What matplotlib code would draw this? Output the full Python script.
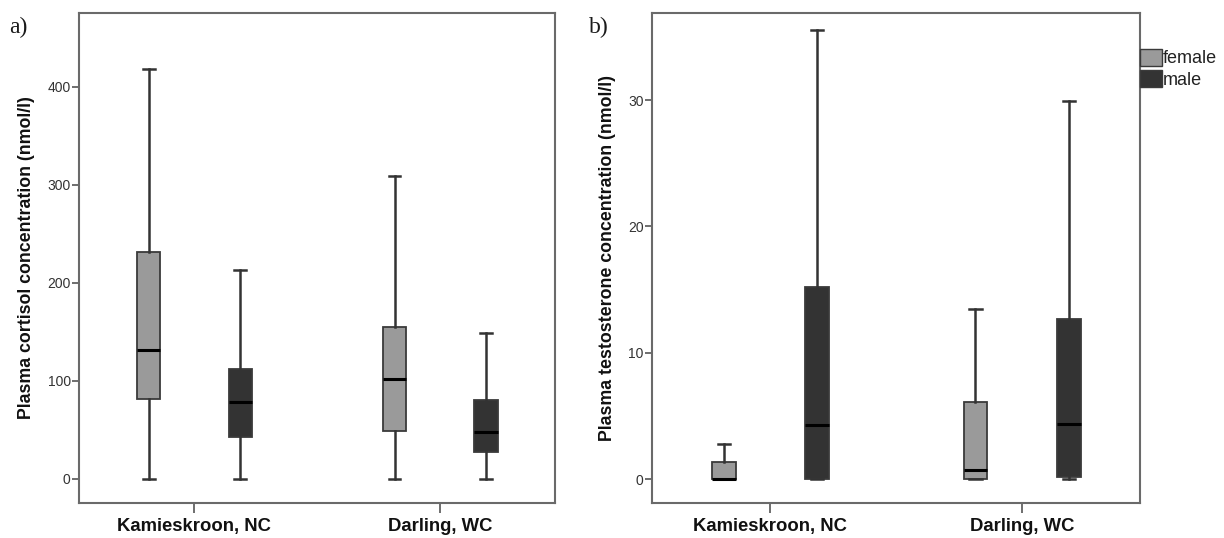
import matplotlib
matplotlib.use("Agg")
import matplotlib.pyplot as plt
from matplotlib.patches import Patch
import numpy as np

plt.rcParams['font.family'] = ['Liberation Sans', 'DejaVu Sans']

sites = ["Kamieskroon, NC", "Darling, WC"]
sexes = ["female", "male"]
colors = {"female": "#9a9a9a", "male": "#333333"}

# cortisol (nmol/l): [whislo, q1, med, q3, whishi] per site
cort_female = [[0, 81.9, 131.6, 231.6, 418.7], [0, 49.3, 102.3, 155.4, 309]]
cort_male = [[0, 43.2, 78.9, 112, 213], [0, 27.6, 48, 80.6, 149.3]]

# testosterone (nmol/l)
testo_female = [[0, 0, 0, 1.32, 2.77], [0, 0, 0.69, 6.1, 13.5]]
testo_male = [[0, 0, 4.3, 15.2, 35.55], [0, 0.13, 4.35, 12.64, 29.9]]


def stats(rows):
    out = []
    for lo, q1, med, q3, hi in rows:
        out.append(dict(whislo=lo, q1=q1, med=med, q3=q3, whishi=hi, fliers=[]))
    return out


def panel(ax, fem, mal, ylim, yticks, ylabel, tag, tagx, lpad):
    x = np.arange(len(sites))
    off = 0.186
    for data, sx, sign in [(fem, "female", -1), (mal, "male", 1)]:
        ax.bxp(stats(data), positions=x + sign * off, widths=0.095,
               patch_artist=True, showfliers=False, manage_ticks=False,
               boxprops=dict(facecolor=colors[sx], edgecolor="#3a3a3a", linewidth=1.3),
               medianprops=dict(color="black", linewidth=2.2),
               whiskerprops=dict(color="#333333", linewidth=1.8),
               capprops=dict(color="#333333", linewidth=1.8),
               capwidths=0.048)
    ax.set_xlim(-0.47, 1.467)
    ax.set_ylim(*ylim)
    ax.set_yticks(yticks)
    ax.set_xticks(x)
    ax.set_xticklabels(sites, fontsize=13.3, fontweight="bold", color="#111111")
    ax.tick_params(axis="y", labelsize=10, labelcolor="#333333", color="#555555",
                   length=5, width=1.2, direction="out", pad=1)
    ax.tick_params(axis="x", color="#555555", length=7, width=1.2, pad=4)
    for s in ax.spines.values():
        s.set_color("#6a6a6a")
        s.set_linewidth(1.5)
    ax.set_ylabel(ylabel, fontsize=12.8, fontweight="bold", color="#111111", labelpad=lpad)
    ax.text(tagx, 0.971, tag, transform=ax.transAxes, fontsize=17,
            family="Liberation Serif", color="#1a1a1a", va="center", ha="left")


fig = plt.figure(figsize=(12.24, 5.38), dpi=100)
ax1 = fig.add_axes([79 / 1224, 1 - 503 / 538, (555 - 79) / 1224, 490 / 538])
ax2 = fig.add_axes([652 / 1224, 1 - 503 / 538, (1140 - 652) / 1224, 490 / 538])

panel(ax1, cort_female, cort_male, (-24.5, 475.5), [0, 100, 200, 300, 400],
      "Plasma cortisol concentration (nmol/l)", "a)", -0.147, 9)
panel(ax2, testo_female, testo_male, (-1.9, 36.9), [0, 10, 20, 30],
      "Plasma testosterone concentration (nmol/l)", "b)", -0.129, 9)

handles = [Patch(facecolor=colors[s], edgecolor="#3a3a3a", linewidth=1.0, label=s) for s in sexes]
ax2.legend(handles=handles, loc="upper left", bbox_to_anchor=(1.0, 0.927), frameon=False,
           fontsize=13, handlelength=1.2, handleheight=1.05, handletextpad=0.08,
           borderaxespad=0, borderpad=0, labelspacing=0.15, labelcolor="#222222")

fig.savefig("out.png", dpi=100)
